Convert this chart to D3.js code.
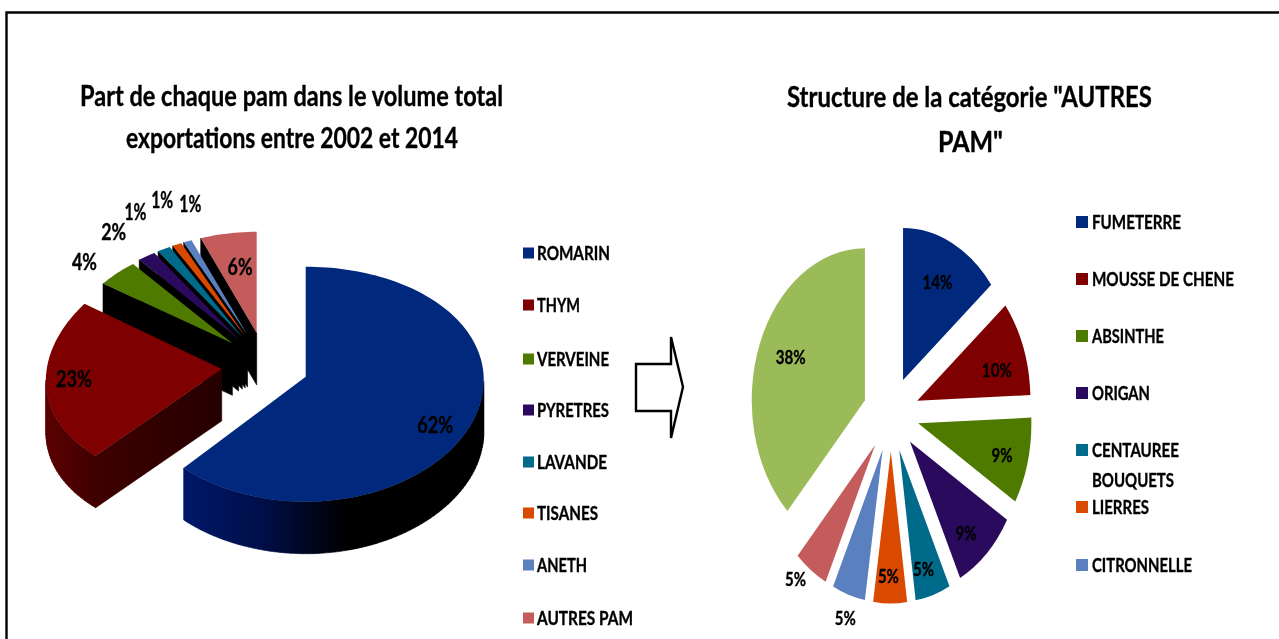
<!DOCTYPE html>
<html><head><meta charset="utf-8">
<script src="https://cdn.jsdelivr.net/npm/d3@7"></script>
<style>html,body{margin:0;padding:0;background:#fff;overflow:hidden}
svg{display:block;filter:blur(.6px)}
text{font-family:Lato,"Open Sans",sans-serif;font-weight:700;fill:#000;stroke:#000;stroke-width:.35px}</style>
</head><body><svg id="c" width="1279" height="639"></svg>
<script>
// ---- data ----
const volCategories = ["ROMARIN","THYM","VERVEINE","PYRETRES","LAVANDE","TISANES","ANETH","AUTRES PAM"];
const volValues = [61.7,22.7,4.3,1.9,1.4,1.0,0.9,6.1];
const autresCategories = ["FUMETERRE","MOUSSE DE CHENE","ABSINTHE","ORIGAN","CENTAUREE\nBOUQUETS","LIERRES","CITRONNELLE","(non lisible)","(non lisible)"];
const autresValues = [14.2,10.2,9.2,9.1,5.0,4.8,4.7,4.8,38];
const palette = ["#00287c","#7f0000","#4e7a00","#2a0a5c","#006a8a","#d94a00","#5b80c0","#c45c5c","#9bbb59"];
const wallFills = ["url(#wallBlue)","url(#wallRed)","#000","#000","#000","#000","#000","#000"];
const titleLeft = ["Part de chaque pam dans le volume total","exportations entre 2002 et 2014"];
const titleRight = ["Structure de la catégorie \"AUTRES","PAM\""];
// ---- layout ----
const P3 = {cx:265,cy:365,ex:43.6,ey:32.6,depth:52};
const lensFront = {rx:178,ry:117.5,ky:.064,kx:.03};
const lensSide = {rx:175,ry:117,ky:0,kx:.1};
const lensBack = {rx:165,ry:115,ky:.12,kx:.1};
const sliceLens = [lensFront,lensSide,lensBack,lensBack,lensBack,lensBack,lensBack,lensBack];
const P2 = {cx:891,cy:414,r:152,sx:.745,explode:37.6};
const nudge3 = [[31,23],[-43,1],[-69,-34],[-61,-51],[-52,-65],[-35,-73],[-15,-66],[3.5,3]];
const nudge2 = [[5,-16],[16,1],[18,9],[10,24],[4,32],[-2,33],[-17,81],[-41,59],[-11,-9]];
const legendLeftY = [253,305,359,410,462,513,565,618];
const legendLeftW = [73,43,72,72,70,61,50,96];
const legendRightY = [222,279,336,393,450,507,565];
const legendRightW = [[89],[142],[72],[58],[87,82],[57],[100]];

const svg = d3.select("#c");
const defs = svg.append("defs");
function grad(id,x1,x2,stops){
  const g=defs.append("linearGradient").attr("id",id).attr("gradientUnits","userSpaceOnUse")
    .attr("x1",x1).attr("x2",x2).attr("y1",0).attr("y2",0);
  stops.forEach(s=>g.append("stop").attr("offset",s[0]).attr("stop-color",s[1]));
}
grad("wallBlue",183,345,[[0,"#00186a"],[.5,"#000e48"],[1,"#000"]]);
grad("wallRed",45,225,[[0,"#5c0000"],[.3,"#3e0000"],[1,"#240000"]]);

// frame
svg.append("path").attr("d","M1279,12.5H6.5V639").attr("fill","none").attr("stroke","#000").attr("stroke-width",2.4);

// titles
function title(lines,cxs,ys,ws,size){
  svg.selectAll(null).data(lines).join("text")
    .attr("x",(d,i)=>cxs[i]).attr("y",(d,i)=>ys[i]).attr("text-anchor","middle")
    .attr("font-size",size).attr("textLength",(d,i)=>ws[i]).attr("lengthAdjust","spacingAndGlyphs").text(d=>d);
}
title(titleLeft,[291.5,292],[106,148],[423,332],28);
title(titleRight,[969.5,970.5],[107,152],[365,65],28);

// ---- left: exploded 3D pie ----
const pie = d3.pie().sort(null).value(d=>d);
const arcs3 = pie(volValues);
function project(apex,a,L){
  const u=Math.sin(a), v=-Math.cos(a);
  return [apex[0]+L.rx*u*(1+L.kx*v), apex[1]+L.ry*v*(1+L.ky*v)];
}
const slices3 = arcs3.map((d,i)=>{
  const b=(d.startAngle+d.endAngle)/2;
  const apex=[P3.cx+P3.ex*Math.sin(b),P3.cy-P3.ey*Math.cos(b)];
  const n=Math.max(4,Math.ceil((d.endAngle-d.startAngle)/.03));
  const pts=[apex].concat(d3.range(n+1).map(k=>project(apex,d.startAngle+(d.endAngle-d.startAngle)*k/n,sliceLens[i])));
  return {i,b,apex,pts};
});
const line=d3.line();
const g3=svg.append("g");
const sliceG=g3.selectAll("g").data(slices3.slice().reverse()).join("g");
sliceG.append("path").attr("d",s=>{
  const closed=s.pts.concat([s.pts[0]]);let out="";
  for(let k=0;k<closed.length-1;k++){
    const p=closed[k],q=closed[k+1];
    if(q[0]<p[0]) out+=line([p,q,[q[0],q[1]+P3.depth],[p[0],p[1]+P3.depth]])+"Z";
  }
  return out;
}).attr("fill",s=>wallFills[s.i]).attr("stroke",s=>wallFills[s.i]).attr("stroke-width",.6);
sliceG.append("path").attr("d",s=>line(s.pts)+"Z").attr("fill",s=>palette[s.i]);
svg.selectAll(null).data(slices3).join("text").attr("text-anchor","middle").attr("dy",".36em").attr("font-size",22)
  .attr("x",s=>s.apex[0]+105.6*Math.sin(s.b)+nudge3[s.i][0])
  .attr("y",s=>s.apex[1]-70.5*Math.cos(s.b)+nudge3[s.i][1])
  .attr("textLength",s=>volValues[s.i]>=9.5?36:(volValues[s.i]<1.5?22:25)).attr("lengthAdjust","spacingAndGlyphs")
  .text(s=>d3.format(".0f")(volValues[s.i])+"%");

// ---- right: exploded flat pie ----
const arc2=d3.arc().innerRadius(0).outerRadius(P2.r);
const arcs2=pie(autresValues);
const g2=svg.append("g").attr("transform",`translate(${P2.cx},${P2.cy}) scale(${P2.sx},1)`);
g2.selectAll("path").data(arcs2).join("path").attr("d",arc2).attr("fill",(d,i)=>palette[i])
  .attr("transform",d=>{const b=(d.startAngle+d.endAngle)/2;return `translate(${P2.explode*Math.sin(b)},${-P2.explode*Math.cos(b)})`;});
svg.selectAll(null).data(arcs2).join("text").attr("text-anchor","middle").attr("dy",".36em").attr("font-size",19)
  .attr("x",(d,i)=>{const b=(d.startAngle+d.endAngle)/2;return P2.cx+(P2.explode+.6*P2.r)*Math.sin(b)*P2.sx+nudge2[i][0];})
  .attr("y",(d,i)=>{const b=(d.startAngle+d.endAngle)/2;return P2.cy-(P2.explode+.6*P2.r)*Math.cos(b)+nudge2[i][1];})
  .attr("textLength",d=>d.value>=9.5?30:21).attr("lengthAdjust","spacingAndGlyphs")
  .text(d=>d3.format(".0f")(d.value)+"%");

// ---- legends ----
function legend(names,ys,widths,sx,size,tx,fs){
  const g=svg.append("g");
  names.forEach((nm,i)=>{
    g.append("rect").attr("x",sx).attr("y",ys[i]-size/2).attr("width",size).attr("height",size).attr("fill",palette[i]);
    nm.split("\n").forEach((t,k)=>{
      g.append("text").attr("x",tx).attr("y",ys[i]+k*30).attr("dy",".36em").attr("font-size",fs)
       .attr("textLength",[].concat(widths[i])[k]).attr("lengthAdjust","spacingAndGlyphs").text(t);
    });
  });
}
legend(volCategories,legendLeftY,legendLeftW,523,11,537,18.5);
legend(autresCategories.slice(0,7),legendRightY,legendRightW,1076,12,1092,18.5);

// ---- arrow ----
const arrowPts=[[636,364],[671,364],[671,337],[683,387],[671,438],[671,411],[636,411]];
svg.append("path").attr("d",line(arrowPts)+"Z").attr("fill","#fff").attr("stroke","#000").attr("stroke-width",2.4);
</script></body></html>
